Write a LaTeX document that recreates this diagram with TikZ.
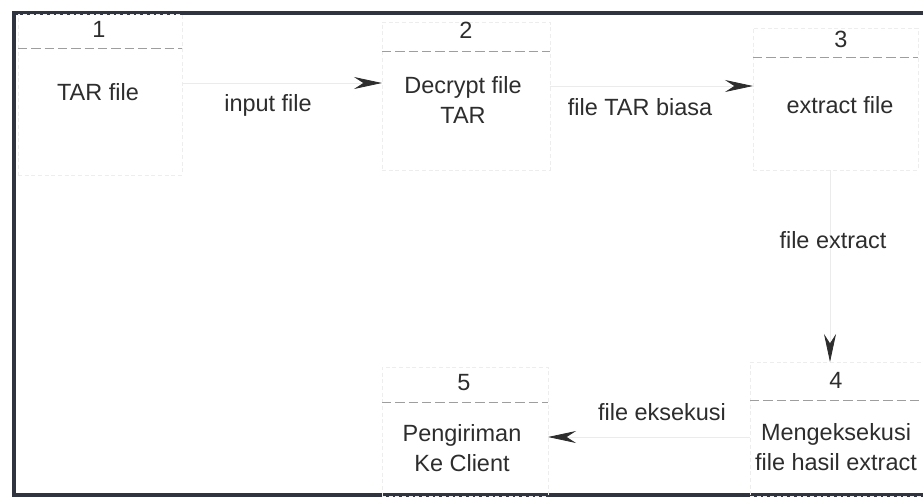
\documentclass[tikz,border=0pt]{standalone}
\usepackage{fontspec}
\setmainfont{Liberation Sans}
\usetikzlibrary{arrows.meta}
\definecolor{frame}{RGB}{48,52,62}
\definecolor{ink}{RGB}{45,45,45}
\tikzset{
  procbox/.style={draw=black!7, densely dashed, line width=0.5pt, inner sep=0pt, outer sep=0pt},
  sepline/.style={draw=black!38, dash pattern=on 7pt off 3pt, line width=0.6pt},
  lbl/.style={text=ink, font=\fontsize{17.6}{22.5}\selectfont, inner sep=0pt, align=center},
  flow/.style={draw=black!8, line width=0.6pt,
    -{Stealth[length=21pt, width=9pt, inset=7pt, color=ink]}},
}
\begin{document}
\begin{tikzpicture}[x=0.75pt, y=-0.75pt]
\useasboundingbox (0,0) rectangle (923,501);

% outer frame
\draw[draw=frame, line width=3pt] (14,13) rectangle (945,495);

% process boxes
\node[procbox, minimum width=123pt,    minimum height=120.75pt] (p1) at (100,94.5) {};
\node[procbox, minimum width=126pt,    minimum height=111pt]    (p2) at (466,96) {};
\node[procbox, minimum width=123.75pt, minimum height=106.5pt]  (p3) at (835.5,99) {};
\node[procbox, minimum width=138.75pt, minimum height=100.5pt]  (p4) at (842.5,429) {};
\node[procbox, minimum width=124.5pt,  minimum height=96.75pt]  (p5) at (465,431.5) {};

% number separators
\draw[sepline] (p1.west |- 0,48) -- (p1.east |- 0,48);
\draw[sepline] (p2.west |- 0,51) -- (p2.east |- 0,51);
\draw[sepline] (p3.west |- 0,57) -- (p3.east |- 0,57);
\draw[sepline] (p4.west |- 0,400) -- (p4.east |- 0,400);
\draw[sepline] (p5.west |- 0,402) -- (p5.east |- 0,402);

% process numbers
\node[lbl, anchor=base] (n1) at (99,37) {1};
\node[lbl, anchor=base] (n2) at (466,38) {2};
\node[lbl, anchor=base] (n3) at (841,47) {3};
\node[lbl, anchor=base] (n4) at (836,388) {4};
\node[lbl, anchor=base] (n5) at (464,390) {5};

% process texts (base anchor sits on the last line)
\node[lbl, anchor=base] (t1) at (98,100) {TAR file};
\node[lbl, anchor=base] (t2) at (463,123) {Decrypt file\\TAR};
\node[lbl, anchor=base] (t3) at (840,113) {extract file};
\node[lbl, anchor=base] (t4) at (836,470) {Mengeksekusi\\file hasil extract};
\node[lbl, anchor=base] (t5) at (462,471) {Pengiriman\\Ke Client};

% data flows
\coordinate (a1) at (0,83);
\coordinate (a2) at (0,86);
\coordinate (a3) at (830,0);
\coordinate (a4) at (0,437);
\draw[flow] (p1.east |- a1) -- (p2.west |- a1);
\draw[flow] (p2.east |- a2) -- (p3.west |- a2);
\draw[flow] (p3.south -| a3) -- (p4.north -| a3);
\draw[flow] (p4.west |- a4) -- (p5.east |- a4);

% flow labels
\node[lbl, anchor=base] (f1) at (268,111) {input file};
\node[lbl, anchor=base] (f2) at (640,115) {file TAR biasa};
\node[lbl, anchor=base] (f3) at (833,248) {file extract};
\node[lbl, anchor=base] (f4) at (662,420) {file eksekusi};
\end{tikzpicture}
\end{document}
